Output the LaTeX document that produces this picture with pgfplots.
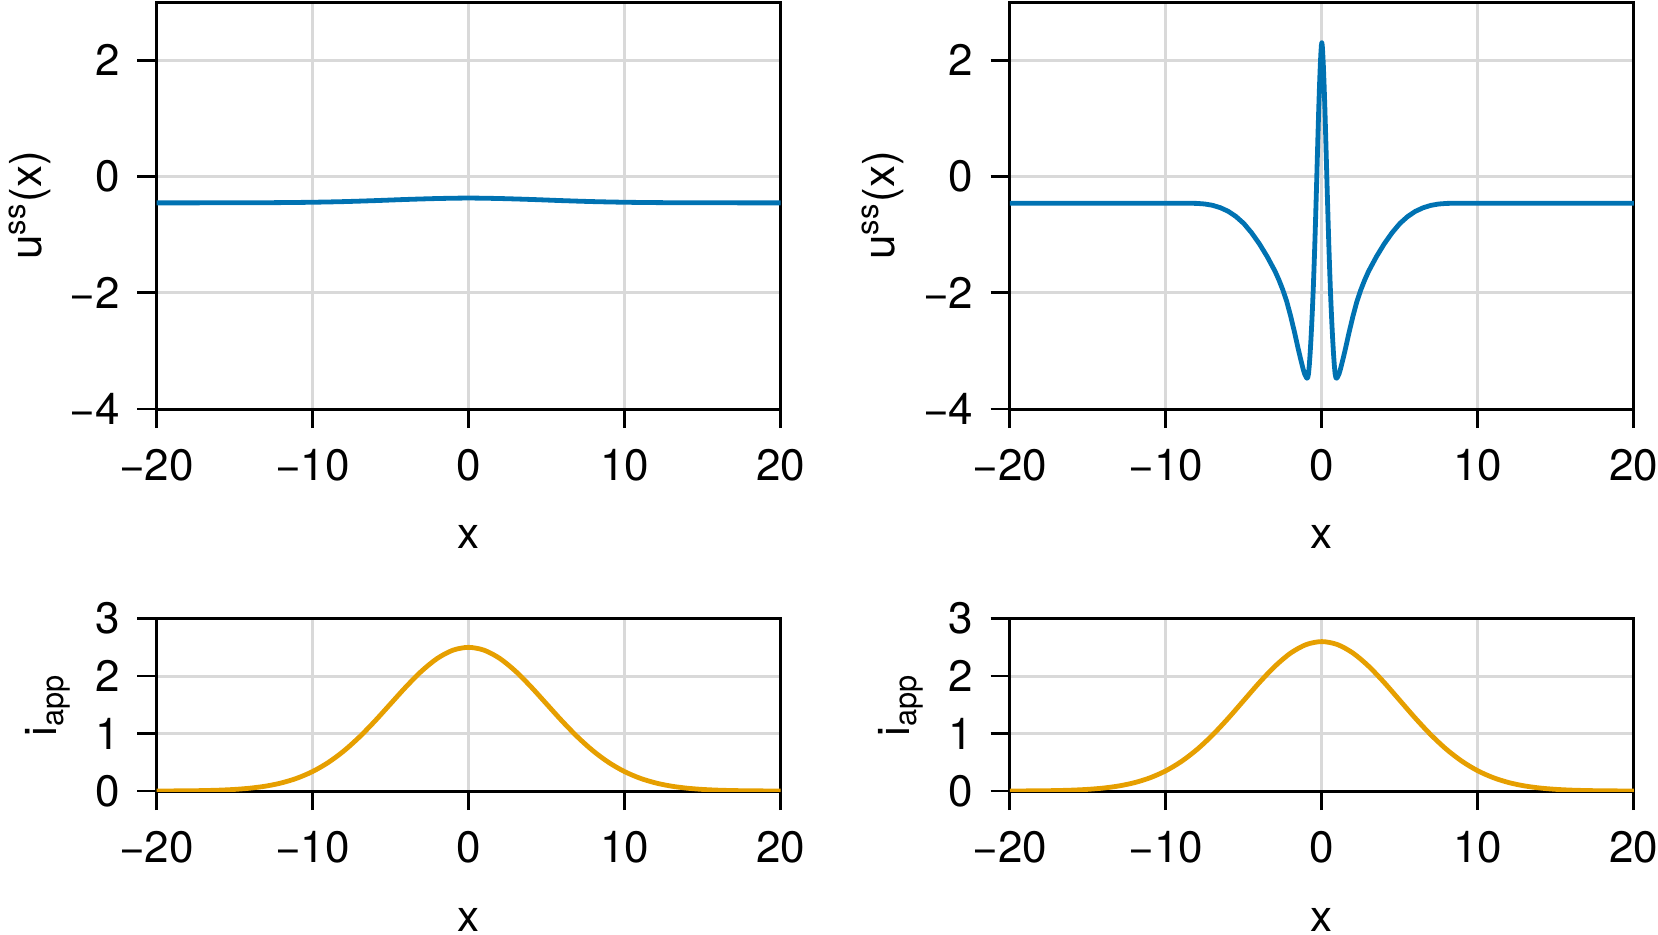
\documentclass[border=0pt]{standalone}
\usepackage{fontspec}
\setmainfont{TeX Gyre Heros}
\usepackage{pgfplots}
\pgfplotsset{compat=1.18}
\definecolor{wblue}{RGB}{0,114,178}
\definecolor{worange}{RGB}{230,159,0}

% steady state, left panel
\pgfplotstableread{
x y
-20 -0.455
-16 -0.454
-14 -0.453
-12 -0.450
-10 -0.444
-8 -0.433
-6 -0.416
-4 -0.396
-2 -0.380
0 -0.372
2 -0.380
4 -0.396
6 -0.416
8 -0.433
10 -0.444
12 -0.450
14 -0.453
16 -0.454
20 -0.455
}\ussleft

% steady state, right panel
\pgfplotstableread{
x y
-20 -0.46
-12 -0.46
-9 -0.46
-8.5 -0.461
-8 -0.464
-7.5 -0.474
-7 -0.497
-6.5 -0.538
-6 -0.60
-5.5 -0.69
-5 -0.81
-4.5 -0.97
-4 -1.16
-3.5 -1.38
-3 -1.63
-2.75 -1.78
-2.5 -1.95
-2.25 -2.15
-2 -2.40
-1.75 -2.68
-1.5 -2.98
-1.35 -3.15
-1.2 -3.31
-1.1 -3.40
-1.0 -3.455
-0.95 -3.47
-0.90 -3.46
-0.85 -3.39
-0.80 -3.24
-0.75 -3.05
-0.70 -2.82
-0.65 -2.56
-0.60 -2.27
-0.55 -1.95
-0.50 -1.58
-0.45 -1.18
-0.40 -0.74
-0.35 -0.28
-0.30 0.20
-0.25 0.68
-0.20 1.14
-0.15 1.55
-0.10 1.90
-0.06 2.12
-0.03 2.25
0 2.30
0.03 2.25
0.06 2.12
0.10 1.90
0.15 1.55
0.20 1.14
0.25 0.68
0.30 0.20
0.35 -0.28
0.40 -0.74
0.45 -1.18
0.50 -1.58
0.55 -1.95
0.60 -2.27
0.65 -2.56
0.70 -2.82
0.75 -3.05
0.80 -3.24
0.85 -3.39
0.90 -3.46
0.95 -3.47
1.0 -3.455
1.1 -3.40
1.2 -3.31
1.35 -3.15
1.5 -2.98
1.75 -2.68
2 -2.40
2.25 -2.15
2.5 -1.95
2.75 -1.78
3 -1.63
3.5 -1.38
4 -1.16
4.5 -0.97
5 -0.81
5.5 -0.69
6 -0.60
6.5 -0.538
7 -0.497
7.5 -0.474
8 -0.464
8.5 -0.461
9 -0.46
12 -0.46
20 -0.46
}\ussright

% applied current
\pgfplotstableread{
x a b
-20 0.0008 0.0009
-19 0.0018 0.0019
-18 0.0038 0.0040
-17 0.0077 0.0080
-16 0.0149 0.0155
-15 0.0278 0.0289
-14 0.0496 0.0516
-13 0.0851 0.0885
-12 0.1403 0.1459
-11 0.2223 0.2312
-10 0.3383 0.3518
-9 0.4948 0.5146
-8 0.6950 0.7228
-7 0.9383 0.9758
-6 1.2170 1.2657
-5 1.5163 1.5769
-4 1.8153 1.8879
-3 2.0883 2.1718
-2 2.3078 2.4001
-1 2.4505 2.5485
0 2.5000 2.6000
1 2.4505 2.5485
2 2.3078 2.4001
3 2.0883 2.1718
4 1.8153 1.8879
5 1.5163 1.5769
6 1.2170 1.2657
7 0.9383 0.9758
8 0.6950 0.7228
9 0.4948 0.5146
10 0.3383 0.3518
11 0.2223 0.2312
12 0.1403 0.1459
13 0.0851 0.0885
14 0.0496 0.0516
15 0.0278 0.0289
16 0.0149 0.0155
17 0.0077 0.0080
18 0.0038 0.0040
19 0.0018 0.0019
20 0.0008 0.0009
}\iapp

\pgfplotsset{
  panel/.style={
    scale only axis, width=156pt, anchor=south west,
    xmin=-20, xmax=20,
    xtick={-20,-10,0,10,20}, xticklabels={−20,−10,0,10,20},
    tick align=outside, xtick pos=bottom, ytick pos=left,
    major tick length=4.8pt, tick style={black, line width=0.7pt},
    axis line style={line width=0.75pt},
    grid=major, major grid style={black!15, line width=0.75pt},
    xticklabel style={yshift=-1.7pt}, yticklabel style={xshift=-0.8pt},
    xlabel={x},
  },
  toppanel/.style={panel, height=101.75pt,
    ymin=-4, ymax=3, ytick={-4,-2,0,2}, yticklabels={−4,−2,0,2},
    ylabel={u\textsuperscript{ss}(x)},
    xlabel style={at={(axis description cs:0.5,-0.3145)}, anchor=center},
    ylabel style={at={(axis description cs:-0.2034,0.5)}, anchor=center},
  },
  botpanel/.style={panel, height=43.1pt,
    ymin=0, ymax=3, ytick={0,1,2,3}, yticklabels={0,1,2,3},
    ylabel={i\textsubscript{app}},
    xlabel style={at={(axis description cs:0.5,-0.748)}, anchor=center},
    ylabel style={at={(axis description cs:-0.1745,0.5)}, anchor=center},
  },
}

\begin{document}
\begin{tikzpicture}[font=\fontsize{11}{13}\selectfont]
\begin{axis}[toppanel, at={(39.125pt,131.25pt)}]
\addplot[wblue, line width=1.2pt, smooth] table[x=x, y=y] {\ussleft};
\end{axis}
\begin{axis}[toppanel, at={(252.45pt,131.25pt)}]
\addplot[wblue, line width=1.2pt, line join=round] table[x=x, y=y] {\ussright};
\end{axis}
\begin{axis}[botpanel, at={(39.125pt,35.75pt)}]
\addplot[worange, line width=1.2pt, smooth] table[x=x, y=a] {\iapp};
\end{axis}
\begin{axis}[botpanel, at={(252.45pt,35.75pt)}]
\addplot[worange, line width=1.2pt, smooth] table[x=x, y=b] {\iapp};
\end{axis}
\pgfresetboundingbox
\path (0,0) rectangle (414.5pt,233.5pt);
\end{tikzpicture}
\end{document}
